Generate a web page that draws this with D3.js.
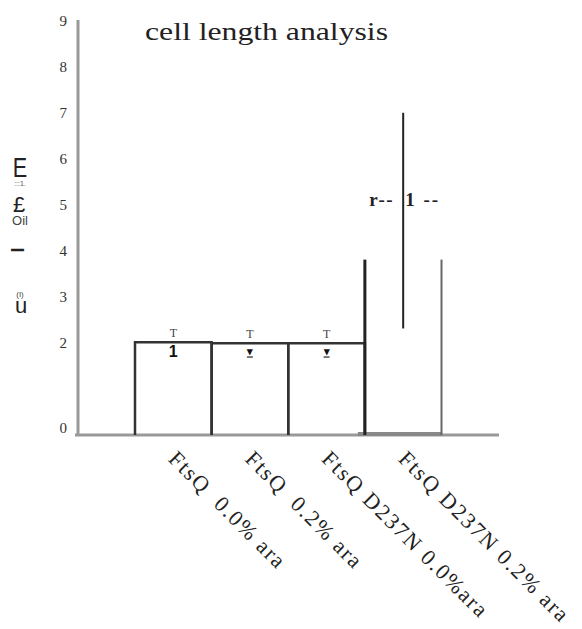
<!DOCTYPE html>
<html>
<head>
<meta charset="utf-8">
<script src="https://cdn.jsdelivr.net/npm/d3@7"></script>
<style>
  html, body { margin: 0; padding: 0; background: #fff; }
  svg { display: block; }
</style>
</head>
<body>
<svg width="582" height="629"></svg>
<script>
const categories = ["FtsQ  0.0% ara", "FtsQ  0.2% ara", "FtsQ D237N 0.0%ara", "FtsQ D237N 0.2% ara"];
const barValues = [2.0, 1.98, 1.98, 3.8];
const errHigh = [2.2, 2.17, 2.17, 7.0];
const errLow = [1.8, 1.82, 1.82, 2.3];
const centerMark = [null, null, null, 5.1];
const upperGlyph = ["T", "T", "T", null];
const lowerGlyph = ["1", "\u25BE", "\u25BE", null];
const yTicks = [0, 2, 3, 4, 5, 6, 7, 8, 9];
const title = "cell length analysis";
const yTitleParts = ["E", ":::1.", "\u00A3", "Oil", "I", "(I)", "u"];

const width = 582, height = 629;
const svg = d3.select("svg");
const serif = "'Liberation Serif', 'Times New Roman', serif";
const sans = "'Liberation Sans', Arial, sans-serif";

const x = d3.scaleBand()
  .domain(categories)
  .range([135, 441.5])
  .padding(0);

const y = d3.scaleLinear()
  .domain([0, 9])
  .range([434, 21]);

const base = y(0) + 1;

// axis lines
svg.append("line")
  .attr("x1", 78).attr("x2", 78)
  .attr("y1", 20).attr("y2", base + 1)
  .attr("stroke", "#999").attr("stroke-width", 3);

svg.append("line")
  .attr("x1", 75).attr("x2", 499)
  .attr("y1", base).attr("y2", base)
  .attr("stroke", "#999").attr("stroke-width", 3);

// y tick labels
const yAxis = svg.append("g")
  .attr("transform", "translate(78,0)")
  .call(d3.axisLeft(y).tickValues(yTicks).tickSize(0).tickPadding(11).tickFormat(d3.format("d")));
yAxis.select(".domain").remove();
yAxis.selectAll("text")
  .attr("font-family", serif)
  .attr("font-size", 15)
  .attr("fill", "#333")
  .attr("dy", d => d === 0 ? "-0.1em" : "0.32em");

// bars 1-3 drawn as open outlines, last one without a top
const bars = categories.map((c, i) => ({ c, v: barValues[i], i }));

svg.selectAll("path.bar")
  .data(bars.slice(0, 3))
  .join("path")
  .attr("class", "bar")
  .attr("fill", "none")
  .attr("stroke", "#333")
  .attr("stroke-width", 2.5)
  .attr("d", d => `M${x(d.c)},${base}V${y(d.v)}H${x(d.c) + x.bandwidth()}V${base}`);

const last = bars[3];
svg.append("rect")
  .attr("x", x(last.c) - 7).attr("y", base - 3)
  .attr("width", x.bandwidth() + 7).attr("height", 4)
  .attr("fill", "#888");

svg.append("line")
  .attr("x1", x(last.c)).attr("x2", x(last.c))
  .attr("y1", base).attr("y2", y(last.v))
  .attr("stroke", "#222").attr("stroke-width", 3);

svg.append("line")
  .attr("x1", x(last.c) + x.bandwidth()).attr("x2", x(last.c) + x.bandwidth())
  .attr("y1", base).attr("y2", y(last.v))
  .attr("stroke", "#666").attr("stroke-width", 2);

// error bar of the last group
const cm = x(last.c) + x.bandwidth() / 2;
svg.append("line")
  .attr("x1", cm).attr("x2", cm)
  .attr("y1", y(errHigh[3])).attr("y2", y(errLow[3]))
  .attr("stroke", "#222").attr("stroke-width", 2);

svg.append("text")
  .attr("x", cm - 9).attr("y", y(centerMark[3]) + 6)
  .attr("text-anchor", "end")
  .attr("font-family", serif).attr("font-weight", "bold").attr("font-size", 19)
  .attr("letter-spacing", 1.5)
  .attr("fill", "#222")
  .text("r--");
svg.append("text")
  .attr("x", cm + 2).attr("y", y(centerMark[3]) + 6)
  .attr("font-family", serif).attr("font-weight", "bold").attr("font-size", 19)
  .attr("letter-spacing", 2)
  .attr("fill", "#222")
  .style("white-space", "pre")
  .text("1 --");

// small error glyphs on bars 1-3
svg.selectAll("text.up")
  .data(bars.slice(0, 3))
  .join("text")
  .attr("class", "up")
  .attr("x", d => x(d.c) + x.bandwidth() / 2)
  .attr("y", d => y(errHigh[d.i]) + 4)
  .attr("text-anchor", "middle")
  .attr("font-family", serif).attr("font-size", 12)
  .attr("fill", "#444")
  .text(d => upperGlyph[d.i]);

svg.selectAll("text.low")
  .data(bars.slice(0, 3))
  .join("text")
  .attr("class", "low")
  .attr("x", d => x(d.c) + x.bandwidth() / 2)
  .attr("y", d => y(errLow[d.i]) + (d.i === 0 ? 6 : 5))
  .attr("text-anchor", "middle")
  .attr("font-family", sans).attr("font-weight", "bold")
  .attr("font-size", d => d.i === 0 ? 16 : 11)
  .attr("text-decoration", d => d.i === 0 ? null : "underline")
  .attr("fill", "#111")
  .text(d => lowerGlyph[d.i]);

// title
svg.append("text")
  .attr("x", 145).attr("y", 40)
  .attr("font-family", serif).attr("font-size", 25)
  .attr("textLength", 243).attr("lengthAdjust", "spacingAndGlyphs")
  .attr("fill", "#222")
  .text(title);

// garbled y title pieces
const yt = svg.append("g").attr("font-family", sans).attr("fill", "#222");
yt.append("text").attr("x", 20).attr("y", 177).attr("text-anchor", "middle")
  .attr("font-size", 27).attr("transform", "translate(20,0) scale(0.8,1) translate(-20,0)")
  .text(yTitleParts[0]);
yt.append("text").attr("x", 20).attr("y", 186).attr("text-anchor", "middle")
  .attr("font-size", 7).attr("fill", "#555").text(yTitleParts[1]);
yt.append("text").attr("x", 19).attr("y", 212).attr("text-anchor", "middle")
  .attr("font-size", 22).text(yTitleParts[2]);
yt.append("text").attr("x", 20).attr("y", 225).attr("text-anchor", "middle")
  .attr("font-size", 13).attr("fill", "#444").text(yTitleParts[3]);
yt.append("text").attr("transform", "translate(18,250) rotate(-90)").attr("text-anchor", "middle")
  .attr("dy", "0.35em").attr("font-size", 18).attr("font-weight", "bold").text(yTitleParts[4]);
yt.append("text").attr("x", 20).attr("y", 297).attr("text-anchor", "middle")
  .attr("font-size", 8).attr("fill", "#444").text(yTitleParts[5]);
yt.append("text").attr("x", 21).attr("y", 313).attr("text-anchor", "middle")
  .attr("font-size", 22).text(yTitleParts[6]);

// rotated category labels, stretched to the wide spacing of the reference
svg.selectAll("text.cat")
  .data(categories)
  .join("text")
  .attr("class", "cat")
  .attr("transform", d => `translate(${x(d) + x.bandwidth() / 2 - 6},${460}) rotate(45)`)
  .attr("font-family", serif).attr("font-size", 22)
  .attr("fill", "#222")
  .style("white-space", "pre")
  .text(d => d)
  .each(function () {
    const n = this.getComputedTextLength();
    d3.select(this).attr("textLength", n * 1.17).attr("lengthAdjust", "spacing");
  });
</script>
</body>
</html>
